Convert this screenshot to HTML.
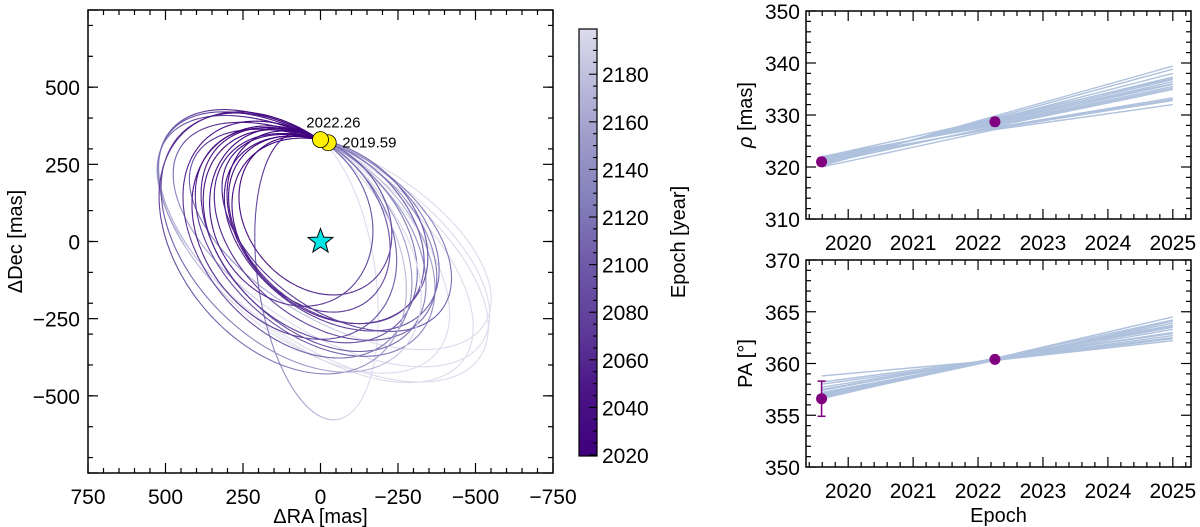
<!DOCTYPE html>
<html><head><meta charset="utf-8"><style>
body{margin:0;background:#fff;}
svg{display:block;font-family:"Liberation Sans",sans-serif;}
</style></head><body>
<svg id="fig" width="1200" height="527" viewBox="0 0 1200 527">
<defs>
<linearGradient id="cbgrad" x1="0" y1="1" x2="0" y2="0">
<stop offset="0" stop-color="#3f007d"/><stop offset="0.15" stop-color="#4a1486"/><stop offset="0.3" stop-color="#5e3c99"/><stop offset="0.45" stop-color="#6f5aa9"/><stop offset="0.6" stop-color="#8480bb"/><stop offset="0.75" stop-color="#a09dcb"/><stop offset="0.9" stop-color="#c2c2df"/><stop offset="1" stop-color="#dcdcec"/>
</linearGradient>
</defs>
<g id="orbits"></g>
<g id="left"></g>
<g id="cb"></g>
<g id="rho"></g>
<g id="pa"></g>
</svg>
<script>
// ---- data ----
const obsEpochs = [2019.59, 2022.26];
const obsLabels = ["2019.59", "2022.26"];
const obsRA = [-25, 0];
const obsDec = [320, 330];
const rhoVals = [321.0, 328.7];
const rhoErr = [0.7, 0.7];
const paVals = [356.6, 360.4];
const paErr = [1.7, 0.2];
// orbit ellipse params: semi-major, semi-minor, tilt deg, start phase deg, period (yr)
const orbA = [617,600,580,560,540,470,450,430,410,400,390,380,360,440,420,350,480,500,280,320,300];
const orbB = [302,300,285,300,270,190,290,280,270,280,260,290,250,300,250,260,330,320,220,230,250];
const orbTilt = [-35,-38,-33,-40,-30,-82,-42,-45,-40,-45,-38,-50,-42,-48,-36,-40,-50,-45,-50,-55,-60];
const orbPeriod = [520,460,420,400,360,300,170,150,140,125,130,110,105,160,135,100,190,240,85,95,90];
const orbPhase = [110,110,112,108,114,158,118,120,122,120,124,118,126,116,122,128,112,110,130,128,125];
// model tracks for right panels
const modelEpochs = [2019.59, 2022.26, 2025.0];
const rhoStart = [320.2,320.5,320.8,321.0,321.2,321.4,321.6,321.8,322.0,320.6,321.1,321.5,320.0,321.9,320.9,321.3];
const rhoMid = [329.8,329.5,329.2,329.0,328.8,328.6,328.4,328.2,328.0,327.8,327.6,327.4,327.2,329.3,328.9,327.5];
const rhoEnd = [339.4,338.8,338.0,337.3,336.8,336.4,335.9,335.5,335.2,334.9,333.3,332.8,332.0,337.0,336.0,333.0];
const paStart = [358.8,358.2,357.7,357.4,357.2,357.0,356.9,356.8,356.7,356.6,357.5,358.0,357.1,356.9];
const paMid = [360.3,360.4,360.4,360.5,360.3,360.4,360.5,360.4,360.3,360.5,360.4,360.3,360.4,360.5];
const paEnd = [362.2,362.5,362.7,362.9,363.3,363.5,363.7,363.9,364.1,364.5,363.6,362.4,363.0,364.2];
const xTicksL = [750,500,250,0,-250,-500,-750];
const yTicksL = [500,250,0,-250,-500];
const cbTicks = [2020,2040,2060,2080,2100,2120,2140,2160,2180];
const yrTicks = [2020,2021,2022,2023,2024,2025];
const rhoTicks = [310,320,330,340,350];
const paTicks = [350,355,360,365,370];

const NS="http://www.w3.org/2000/svg";
function mk(parent,tag,attrs,text){const e=document.createElementNS(NS,tag);for(const k in attrs)e.setAttribute(k,attrs[k]);if(text!==undefined)e.textContent=text;parent.appendChild(e);return e;}
const fmt=v=>(v<0?"\u2212"+(-v):""+v);
const FS=21;

// ---- left axes ----
const L={x0:88,x1:553,y0:10,y1:473};
const sx=ra=>L.x0+(750-ra)/1500*(L.x1-L.x0);
const sy=d=>L.y1-(d+750)/1500*(L.y1-L.y0);
const cmin=2019.59,cmax=2199;
const stops=[[0x3f,0x00,0x7d],[0x4a,0x14,0x86],[0x5e,0x3c,0x99],[0x6f,0x5a,0xa9],[0x84,0x80,0xbb],[0xa0,0x9d,0xcb],[0xc2,0xc2,0xdf],[0xdc,0xdc,0xec]];
const spos=[0,0.15,0.3,0.45,0.6,0.75,0.9,1];
function cmap(f){f=Math.max(0,Math.min(1,f));let i=0;while(i<spos.length-2&&f>spos[i+1])i++;const t=(f-spos[i])/(spos[i+1]-spos[i]);const c=stops[i].map((v,j)=>Math.round(v+(stops[i+1][j]-v)*t));return `rgb(${c[0]},${c[1]},${c[2]})`;}

const og=document.getElementById('orbits');
const P={x:-obsRA[1]-3,y:obsDec[1]};
for(let k=0;k<orbA.length;k++){
  const a=orbA[k],b=orbB[k],th=orbTilt[k]*Math.PI/180,t0=orbPhase[k]*Math.PI/180;
  const loc=t=>{const lx=a*Math.cos(t),ly=b*Math.sin(t);return {x:lx*Math.cos(th)-ly*Math.sin(th),y:lx*Math.sin(th)+ly*Math.cos(th)};};
  const p0=loc(t0);const cx=P.x-p0.x,cy=P.y-p0.y;
  const g=mk(og,'g',{});
  
  
  const N=160;let prev=null;
  for(let i=0;i<=N;i++){
    const t=t0+2*Math.PI*i/N;const p=loc(t);
    const X=sx(-(cx+p.x)),Y=sy(cy+p.y);
    const ep=(i-0.5)/N*orbPeriod[k];
    if(prev){mk(g,'line',{x1:prev[0].toFixed(1),y1:prev[1].toFixed(1),x2:X.toFixed(1),y2:Y.toFixed(1),stroke:cmap(ep/(cmax-cmin)),'stroke-width':1.1,'stroke-linecap':'round'});}
    prev=[X,Y];
  }
}
const lg=document.getElementById('left');
mk(lg,'rect',{x:L.x0,y:L.y0,width:L.x1-L.x0,height:L.y1-L.y0,fill:'none',stroke:'#000','stroke-width':1.5});
for(let v=-750;v<=750;v+=50){const X=sx(v),maj=v%250===0,len=maj?10:5;
  mk(lg,'line',{x1:X,y1:L.y1,x2:X,y2:L.y1-len,stroke:'#000','stroke-width':1.2});
  mk(lg,'line',{x1:X,y1:L.y0,x2:X,y2:L.y0+len,stroke:'#000','stroke-width':1.2});}
for(let v=-700;v<=700;v+=100){const Y=sy(v);
  mk(lg,'line',{x1:L.x0,y1:Y,x2:L.x0+5,y2:Y,stroke:'#000','stroke-width':1.2});
  mk(lg,'line',{x1:L.x1,y1:Y,x2:L.x1-5,y2:Y,stroke:'#000','stroke-width':1.2});}
for(let v=-750;v<=750;v+=250){const Y=sy(v);
  mk(lg,'line',{x1:L.x0,y1:Y,x2:L.x0+10,y2:Y,stroke:'#000','stroke-width':1.2});
  mk(lg,'line',{x1:L.x1,y1:Y,x2:L.x1-10,y2:Y,stroke:'#000','stroke-width':1.2});}
xTicksL.forEach(v=>{const t=mk(lg,'text',{x:sx(v),y:L.y1+31,'font-size':FS,'text-anchor':'middle'},fmt(v));});
yTicksL.forEach(v=>{const t=mk(lg,'text',{x:L.x0-8,y:sy(v)+8,'font-size':FS,'text-anchor':'end'},fmt(v));});
let t1=mk(lg,'text',{x:(L.x0+L.x1)/2,y:523,'font-size':20,'text-anchor':'middle'},'\u0394RA [mas]');
let t2=mk(lg,'text',{x:0,y:0,'font-size':20,'text-anchor':'middle',transform:`translate(22,${sy(0)}) rotate(-90)`},'\u0394Dec [mas]');
// star
const st=[];for(let i=0;i<10;i++){const r=i%2?5.5:13,an=-Math.PI/2+i*Math.PI/5;st.push((sx(0)+r*Math.cos(an)).toFixed(1)+','+(sy(0)+r*Math.sin(an)).toFixed(1));}
let star=mk(lg,'polygon',{points:st.join(' '),fill:'#00e6e6',stroke:'#000','stroke-width':1});
for(let i=0;i<2;i++){let c=mk(lg,'circle',{cx:sx(obsRA[i]),cy:sy(obsDec[i]),r:8,fill:'#ffef00',stroke:'#000','stroke-width':0.8});}
let la=mk(lg,'text',{x:sx(obsRA[1])+40,y:sy(obsDec[1])-12,'font-size':15,'text-anchor':'end'},obsLabels[1]);
let lb=mk(lg,'text',{x:sx(obsRA[0])+14,y:sy(obsDec[0])+5,'font-size':15},obsLabels[0]);

// ---- colorbar ----
const cb=document.getElementById('cb');const C={x0:579,x1:597,y0:29,y1:456};
const cy2=v=>C.y1-(v-cmin)/(cmax-cmin)*(C.y1-C.y0);
mk(cb,'rect',{x:C.x0,y:C.y0,width:C.x1-C.x0,height:C.y1-C.y0,fill:'url(#cbgrad)',stroke:'#000','stroke-width':1.2});
for(let v=2020;v<=2195;v+=5){const Y=cy2(v),len=v%20===0?8:4;mk(cb,'line',{x1:C.x1,y1:Y,x2:C.x1-len,y2:Y,stroke:'#000','stroke-width':1.1});}
cbTicks.forEach(v=>{const t=mk(cb,'text',{x:C.x1+5,y:cy2(v)+8,'font-size':FS},v);});
let t3=mk(cb,'text',{x:0,y:0,'font-size':20,'text-anchor':'middle',transform:`translate(685,242) rotate(-90)`},'Epoch [year]');

// ---- right panels ----
const R={x0:806,x1:1191};
const ex=v=>R.x0+(v-2019.35)/(2025.28-2019.35)*(R.x1-R.x0);
function panel(g,y0,y1,lo,hi,minStep,ticks,label,starts,mids,ends,vals,errs){
  const py=v=>y1-(v-lo)/(hi-lo)*(y1-y0);
  for(let i=0;i<starts.length;i++){
    const ys=[starts[i],mids[i],ends[i]];
    let l=mk(g,'polyline',{points:modelEpochs.map((x,j)=>ex(x).toFixed(1)+','+py(ys[j]).toFixed(1)).join(' '),fill:'none',stroke:'#aec1dd','stroke-width':1.4});
    }
  for(let i=0;i<2;i++){const X=ex(obsEpochs[i]);
    mk(g,'line',{x1:X,y1:py(vals[i]-errs[i]),x2:X,y2:py(vals[i]+errs[i]),stroke:'#800080','stroke-width':1.5});
    mk(g,'line',{x1:X-4,y1:py(vals[i]-errs[i]),x2:X+4,y2:py(vals[i]-errs[i]),stroke:'#800080','stroke-width':1.5});
    mk(g,'line',{x1:X-4,y1:py(vals[i]+errs[i]),x2:X+4,y2:py(vals[i]+errs[i]),stroke:'#800080','stroke-width':1.5});
    let c=mk(g,'circle',{cx:X,cy:py(vals[i]),r:5.5,fill:'#800080'});}
  mk(g,'rect',{x:R.x0,y:y0,width:R.x1-R.x0,height:y1-y0,fill:'none',stroke:'#000','stroke-width':1.5});
  for(let k=0;k<=29;k++){const v=2019.4+k*0.2;const X=ex(v);if(X>R.x1)break;const maj=Math.abs(v-Math.round(v))<1e-6,len=maj?10:5;
    mk(g,'line',{x1:X,y1:y1,x2:X,y2:y1-len,stroke:'#000','stroke-width':1.2});mk(g,'line',{x1:X,y1:y0,x2:X,y2:y0+len,stroke:'#000','stroke-width':1.2});}
  for(let v=lo;v<=hi+1e-9;v+=minStep){const Y=py(v),maj=ticks.includes(Math.round(v*100)/100),len=maj?10:5;
    mk(g,'line',{x1:R.x0,y1:Y,x2:R.x0+len,y2:Y,stroke:'#000','stroke-width':1.2});mk(g,'line',{x1:R.x1,y1:Y,x2:R.x1-len,y2:Y,stroke:'#000','stroke-width':1.2});}
  ticks.forEach(v=>{const t=mk(g,'text',{x:R.x0-6,y:py(v)+8,'font-size':FS,'text-anchor':'end'},v);});
  yrTicks.forEach(v=>{const t=mk(g,'text',{x:ex(v),y:y1+31,'font-size':FS,'text-anchor':'middle'},v);});
  const yl=mk(g,'text',{x:0,y:0,'font-size':20,'text-anchor':'middle',transform:`translate(752,${(y0+y1)/2}) rotate(-90)`});
  yl.innerHTML=label;
}
panel(document.getElementById('rho'),11,219,310,350,2,rhoTicks,'<tspan font-style="italic">\u03c1</tspan> [mas]',rhoStart,rhoMid,rhoEnd,rhoVals,rhoErr);
panel(document.getElementById('pa'),260,467,350,370,1,paTicks,'PA [\u00b0]',paStart,paMid,paEnd,paVals,paErr);
let t4=mk(document.getElementById('pa'),'text',{x:(R.x0+R.x1)/2,y:522,'font-size':20,'text-anchor':'middle'},'Epoch');
</script>
</body></html>
